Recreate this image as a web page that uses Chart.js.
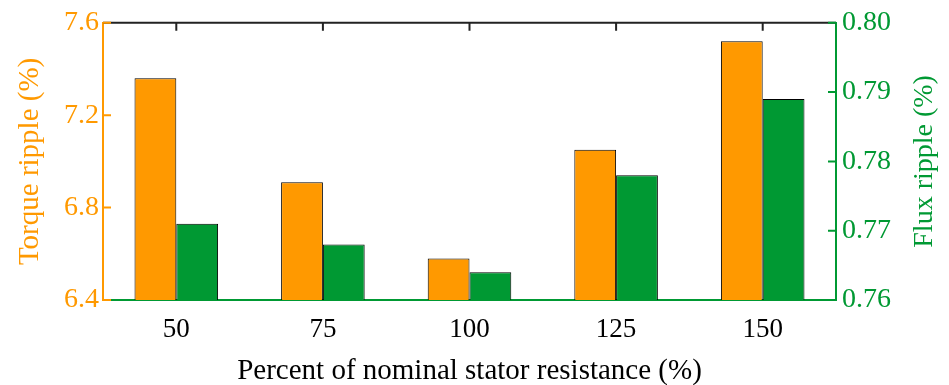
<!DOCTYPE html>
<html>
<head>
<meta charset="utf-8">
<script src="https://cdn.jsdelivr.net/npm/chart.js@4"></script>
<style>
  body { margin: 0; background: #fff; }
</style>
</head>
<body>
<canvas id="rippleChart" width="949" height="385"></canvas>
<script>
// values
const categories = ['50', '75', '100', '125', '150'];
const torqueRipple = [7.36, 6.91, 6.58, 7.05, 7.52];
const fluxRipple = [0.771, 0.768, 0.764, 0.778, 0.789];
const torqueTicks = [6.4, 6.8, 7.2, 7.6];
const fluxTicks = [0.76, 0.77, 0.78, 0.79, 0.80];

const ORANGE = '#ff9900';
const GREEN = '#009933';
const FONT = '"Liberation Serif", "Times New Roman", serif';

// inward tick marks, black top frame line, right axis title (reads bottom to top)
const frameTicks = {
    id: 'frameTicks',
    afterDraw(chart) {
        const ctx = chart.ctx;
        const area = chart.chartArea;
        const x = chart.scales.x, y = chart.scales.y, y1 = chart.scales.y1;
        const len = 8;
        ctx.save();
        ctx.lineWidth = 2;

        ctx.strokeStyle = '#222';
        ctx.beginPath();
        ctx.moveTo(area.left, area.top);
        ctx.lineTo(area.right, area.top);
        categories.forEach((c, i) => {
            const px = x.getPixelForValue(i);
            ctx.moveTo(px, area.top);
            ctx.lineTo(px, area.top + len);
        });
        ctx.stroke();

        ctx.strokeStyle = ORANGE;
        ctx.beginPath();
        torqueTicks.forEach(v => {
            const py = y.getPixelForValue(v);
            ctx.moveTo(area.left, py);
            ctx.lineTo(area.left + len, py);
        });
        ctx.stroke();

        ctx.strokeStyle = GREEN;
        ctx.beginPath();
        fluxTicks.forEach(v => {
            const py = y1.getPixelForValue(v);
            ctx.moveTo(area.right, py);
            ctx.lineTo(area.right - len, py);
        });
        ctx.stroke();

        // right title
        ctx.translate(925, (area.top + area.bottom) / 2);
        ctx.rotate(-Math.PI / 2);
        ctx.fillStyle = GREEN;
        ctx.font = '28px ' + FONT;
        ctx.textAlign = 'center';
        ctx.textBaseline = 'middle';
        ctx.fillText('Flux ripple (%)', 0, 0);
        ctx.restore();
    }
};

const ctx = document.getElementById('rippleChart').getContext('2d');
new Chart(ctx, {
    type: 'bar',
    data: {
        labels: categories,
        datasets: [{
            label: 'Torque ripple',
            data: torqueRipple,
            yAxisID: 'y',
            backgroundColor: ORANGE,
            borderColor: '#000',
            borderWidth: 1,
            borderSkipped: false
        }, {
            label: 'Flux ripple',
            data: fluxRipple,
            yAxisID: 'y1',
            backgroundColor: GREEN,
            borderColor: '#000',
            borderWidth: 1,
            borderSkipped: false
        }]
    },
    options: {
        responsive: false,
        animation: false,
        devicePixelRatio: 1,
        layout: { padding: { top: 22, left: 0, right: 0, bottom: 0 } },
        datasets: { bar: { categoryPercentage: 0.57, barPercentage: 1.0 } },
        plugins: { legend: { display: false }, tooltip: { enabled: false } },
        scales: {
            x: {
                grid: { display: false, drawTicks: false },
                border: { display: true, color: GREEN, width: 2 },
                ticks: { color: '#000', font: { family: FONT, size: 27 }, padding: 14 },
                title: {
                    display: true,
                    text: 'Percent of nominal stator resistance (%)',
                    color: '#000',
                    font: { family: FONT, size: 29 },
                    padding: { top: 0, bottom: -4 }
                },
                afterFit: s => { s.height = 85; }
            },
            y: {
                position: 'left',
                min: 6.4,
                max: 7.6,
                afterBuildTicks: s => { s.ticks = torqueTicks.map(v => ({ value: v })); },
                grid: { display: false, drawTicks: false },
                border: { display: true, color: ORANGE, width: 2 },
                ticks: {
                    color: ORANGE,
                    font: { family: FONT, size: 28 },
                    padding: 4,
                    callback: v => v.toFixed(1)
                },
                title: {
                    display: true,
                    text: 'Torque ripple (%)',
                    color: ORANGE,
                    font: { family: FONT, size: 29 },
                    padding: { top: 13, bottom: 8 }
                },
                afterFit: s => { s.width = 103; }
            },
            y1: {
                position: 'right',
                min: 0.76,
                max: 0.80,
                afterBuildTicks: s => { s.ticks = fluxTicks.map(v => ({ value: v })); },
                grid: { display: false, drawTicks: false },
                border: { display: true, color: GREEN, width: 2 },
                ticks: {
                    color: GREEN,
                    font: { family: FONT, size: 28 },
                    padding: 6,
                    callback: v => v.toFixed(2)
                },
                title: { display: false },
                afterFit: s => { s.width = 113; }
            }
        }
    },
    plugins: [frameTicks]
});
</script>
</body>
</html>
